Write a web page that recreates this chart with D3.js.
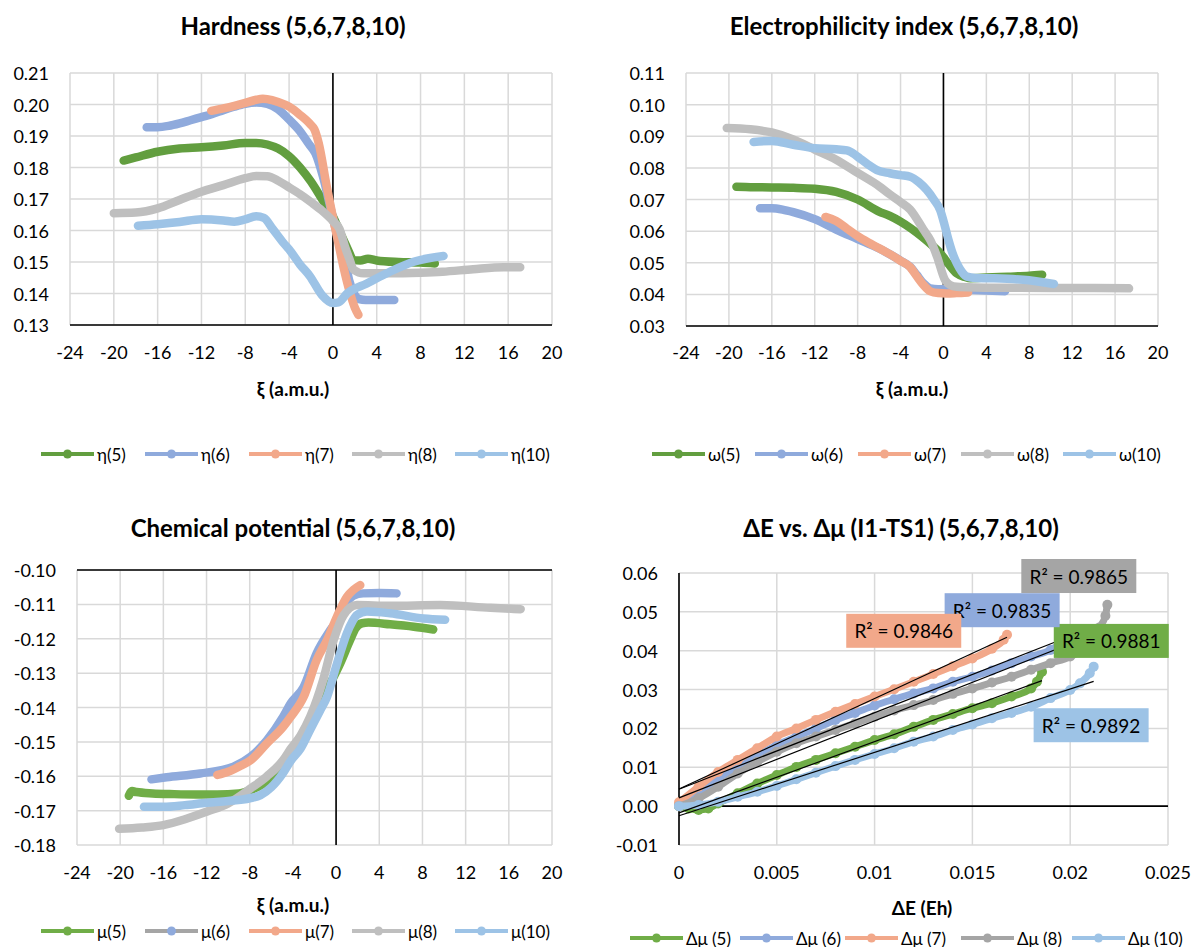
<!DOCTYPE html>
<html><head><meta charset="utf-8">
<script src="https://cdn.jsdelivr.net/npm/d3@7"></script>
<style>body{margin:0;background:#fff}svg{display:block;font-family:Lato,"Open Sans",sans-serif}</style>
</head><body><svg id="c" width="1192" height="947"></svg>
<script>
// ---------------- DATA ----------------
const xiTicks = [-24,-20,-16,-12,-8,-4,0,4,8,12,16,20];
const etaTicks = [0.13,0.14,0.15,0.16,0.17,0.18,0.19,0.20,0.21];
const omegaTicks = [0.03,0.04,0.05,0.06,0.07,0.08,0.09,0.10,0.11];
const muTicks = [-0.18,-0.17,-0.16,-0.15,-0.14,-0.13,-0.12,-0.11,-0.10];
const dETicks = [0,0.005,0.01,0.015,0.02,0.025];
const dETickLabels = ["0","0.005","0.01","0.015","0.02","0.025"];
const dmuTicks = [-0.01,0,0.01,0.02,0.03,0.04,0.05,0.06];

const etaLabels = ["η(5)","η(6)","η(7)","η(8)","η(10)"];
const omegaLabels = ["ω(5)","ω(6)","ω(7)","ω(8)","ω(10)"];
const muLabels = ["μ(5)","μ(6)","μ(7)","μ(8)","μ(10)"];
const dmuLabels = ["Δμ (5)","Δμ (6)","Δμ (7)","Δμ (8)","Δμ (10)"];
const r2Values = ["0.9881","0.9835","0.9846","0.9865","0.9892"];

// Hardness [ξ, η]
const eta5 = [[-19.1,0.1822],[-18,0.1832],[-16,0.1850],[-14,0.1860],[-12,0.1864],[-10,0.1870],[-8,0.1878],[-7,0.1878],[-6,0.1873],[-5,0.1860],[-4,0.1836],[-3,0.1800],[-2,0.1755],[-1,0.1700],[0,0.1645],[0.7,0.1590],[1.3,0.1545],[1.9,0.1506],[2.5,0.1505],[3.2,0.1510],[4,0.1505],[6,0.1500],[8,0.1498],[9.3,0.1495]];
const eta6 = [[-17,0.1928],[-16,0.1928],[-15,0.1932],[-14,0.1940],[-13,0.1950],[-12,0.1960],[-11,0.1970],[-10,0.1982],[-9,0.1993],[-8,0.2002],[-7,0.2006],[-6,0.2002],[-5,0.1985],[-4,0.1952],[-3,0.1915],[-2.2,0.1875],[-1.6,0.1845],[-0.9,0.1770],[-0.2,0.1670],[0.5,0.1570],[1.1,0.1506],[1.5,0.1440],[1.9,0.1401],[2.4,0.1382],[3,0.1379],[4.5,0.1379],[5.6,0.1379]];
const eta7 = [[-11.1,0.1980],[-10,0.1988],[-9,0.1996],[-8,0.2005],[-7,0.2015],[-6.4,0.2018],[-6,0.2017],[-5,0.2008],[-4,0.1993],[-3,0.1967],[-2,0.1935],[-1.7,0.1922],[-1.3,0.1878],[-0.56,0.1739],[0.05,0.1633],[0.5,0.1560],[0.96,0.1485],[1.57,0.1401],[2.0,0.1355],[2.33,0.1332]];
const eta8 = [[-20,0.1655],[-18,0.1657],[-16,0.1670],[-14,0.1697],[-12,0.1723],[-10,0.1744],[-8,0.1766],[-7,0.1773],[-6,0.1772],[-5,0.1758],[-4,0.1737],[-3,0.1715],[-2,0.1690],[-1,0.1663],[0,0.1630],[0.6,0.1605],[1.1,0.1549],[1.5,0.1510],[1.9,0.1475],[2.8,0.1464],[5,0.1464],[8,0.1466],[10,0.1469],[12.8,0.1477],[15.6,0.1483],[17.1,0.1483]];
const eta10 = [[-17.8,0.1615],[-16,0.1620],[-14,0.1627],[-12,0.1636],[-10,0.1632],[-9,0.1628],[-8,0.1635],[-7,0.1645],[-6.3,0.1640],[-5.5,0.1605],[-4.5,0.1560],[-4,0.1540],[-3,0.1492],[-2.1,0.1455],[-1,0.1395],[0,0.1370],[0.5,0.1372],[1.3,0.1400],[3.1,0.1432],[5.2,0.1469],[7.3,0.1500],[10.1,0.1519]];

// Electrophilicity index [ξ, ω]
const omega5 = [[-19.3,0.0740],[-18,0.0739],[-16,0.0738],[-14,0.0737],[-12,0.0734],[-10,0.0724],[-8,0.0700],[-6,0.0662],[-5,0.0648],[-4,0.0630],[-3,0.0608],[-2,0.0582],[-1,0.0553],[-0.3,0.0530],[0.5,0.0495],[1.25,0.0466],[2,0.0455],[2.5,0.0451],[4,0.0453],[6,0.0456],[8,0.0459],[9.2,0.0462]];
const omega6 = [[-17.1,0.0672],[-16,0.0672],[-15,0.0668],[-14,0.0660],[-12,0.0638],[-10,0.0605],[-8,0.0575],[-6,0.0545],[-5,0.0527],[-4,0.0507],[-3.1,0.0487],[-2.5,0.0462],[-1.87,0.0435],[-1.24,0.0419],[-0.5,0.0416],[0.5,0.0417],[2,0.0415],[4,0.0412],[5.75,0.0410]];
const omega7 = [[-11,0.0645],[-10,0.0632],[-9,0.0608],[-8,0.0584],[-7,0.0564],[-6,0.0546],[-5,0.0527],[-4,0.0506],[-3.1,0.0486],[-2.5,0.0458],[-1.87,0.0430],[-1.24,0.0410],[-0.5,0.0404],[0.3,0.0403],[1.2,0.0404],[2.3,0.0406]];
const omega8 = [[-20.2,0.0926],[-18,0.0922],[-16,0.0912],[-14,0.0890],[-12,0.0858],[-10,0.0826],[-8,0.0784],[-6,0.0742],[-5,0.0716],[-4,0.0692],[-3.1,0.0668],[-1.87,0.0605],[-1.2,0.0570],[-0.6,0.0520],[0.15,0.0445],[0.6,0.0430],[1.25,0.0424],[3,0.0422],[6,0.0421],[10,0.0420],[14,0.0420],[17.3,0.0419]];
const omega10 = [[-17.7,0.0882],[-16,0.0885],[-14,0.0873],[-12,0.0862],[-10,0.0859],[-9,0.0855],[-8.3,0.0843],[-7.8,0.0830],[-7,0.0810],[-6.2,0.0793],[-5,0.0783],[-4,0.0777],[-3.1,0.0772],[-2.3,0.0755],[-1.55,0.0730],[-0.9,0.0700],[-0.3,0.0666],[0.1,0.0620],[0.47,0.0572],[0.85,0.0530],[1.25,0.0498],[1.7,0.0472],[2.2,0.0456],[3,0.0452],[4.35,0.0451],[7.45,0.0446],[10.3,0.0433]];

// Chemical potential [ξ, μ]
const mu5 = [[-19.2,-0.1657],[-18.9,-0.1643],[-18.5,-0.1646],[-17,-0.1650],[-15,-0.1652],[-13,-0.1653],[-11,-0.1653],[-9,-0.1650],[-8,-0.1641],[-7,-0.1627],[-6,-0.1605],[-5,-0.1570],[-4,-0.1522],[-3,-0.1472],[-2.4,-0.1438],[-1.5,-0.1385],[-0.54,-0.1330],[0.39,-0.1271],[1.3,-0.1204],[1.8,-0.1170],[2.4,-0.1155],[3,-0.1153],[5,-0.1158],[7.2,-0.1165],[9,-0.1173]];
const mu6 = [[-17.1,-0.1609],[-15.7,-0.1603],[-12.6,-0.1592],[-9.5,-0.1572],[-7.9,-0.1543],[-6.4,-0.1495],[-4.9,-0.1427],[-4.2,-0.1388],[-3.0,-0.1340],[-1.8,-0.1242],[-0.54,-0.1175],[0.6,-0.1125],[1.0,-0.1095],[1.6,-0.1075],[2.5,-0.1068],[4,-0.1067],[5.6,-0.1068]];
const mu7 = [[-11,-0.1596],[-10,-0.1587],[-9,-0.1572],[-7.9,-0.1553],[-6.4,-0.1504],[-4.9,-0.1456],[-4.2,-0.1427],[-3,-0.1369],[-1.8,-0.1262],[-0.84,-0.1204],[0.08,-0.1136],[1.0,-0.1078],[1.6,-0.1058],[2.24,-0.1044]];
const mu8 = [[-20.1,-0.1753],[-18,-0.1749],[-16,-0.1742],[-14,-0.1725],[-12,-0.1703],[-10,-0.1679],[-7.9,-0.1635],[-6.4,-0.1600],[-4.9,-0.1553],[-4.2,-0.1520],[-3.3,-0.1482],[-2.4,-0.1427],[-1.2,-0.1320],[-0.23,-0.1204],[0.7,-0.1131],[1.93,-0.1102],[5,-0.1104],[9.65,-0.1102],[14.3,-0.1110],[17.1,-0.1114]];
const mu10 = [[-17.8,-0.1689],[-16,-0.1689],[-14,-0.1684],[-12,-0.1677],[-10,-0.1672],[-8,-0.1664],[-7,-0.1655],[-6,-0.1632],[-4.9,-0.1590],[-4.2,-0.1555],[-3.3,-0.1520],[-2.4,-0.1465],[-1.5,-0.1410],[-0.84,-0.1369],[0,-0.1281],[0.5,-0.1230],[1.0,-0.1184],[1.5,-0.1150],[1.93,-0.1131],[2.86,-0.1121],[5,-0.1126],[8.1,-0.1141],[10.1,-0.1145]];

// ΔE vs Δμ [ΔE, Δμ]
const dmu5 = [[0,0],[0.0005,-0.0006],[0.001,-0.001],[0.0015,-0.0006],[0.002,0.0007],[0.003,0.0033],[0.004,0.0058],[0.005,0.0080],[0.006,0.0101],[0.007,0.0119],[0.008,0.0136],[0.009,0.0153],[0.010,0.0170],[0.011,0.0185],[0.012,0.0204],[0.013,0.0222],[0.014,0.0237],[0.015,0.0252],[0.016,0.0265],[0.017,0.0282],[0.018,0.0303],[0.0183,0.0320],[0.01856,0.0346]];
const dmu6 = [[0,0.0005],[0.001,0.0033],[0.002,0.0071],[0.003,0.0101],[0.004,0.0131],[0.005,0.0157],[0.006,0.0179],[0.007,0.0200],[0.008,0.0222],[0.009,0.0240],[0.010,0.0259],[0.011,0.0275],[0.012,0.0290],[0.013,0.0303],[0.014,0.0320],[0.015,0.0333],[0.016,0.0349],[0.017,0.0368],[0.018,0.0385],[0.019,0.0402],[0.0195,0.0418]];
const dmu7 = [[0,0.0010],[0.001,0.0050],[0.002,0.0088],[0.003,0.0119],[0.004,0.0149],[0.005,0.0179],[0.006,0.0200],[0.007,0.0222],[0.008,0.0243],[0.009,0.0263],[0.010,0.0282],[0.011,0.0301],[0.012,0.0320],[0.013,0.0340],[0.014,0.0360],[0.015,0.0380],[0.016,0.0405],[0.0166,0.0428],[0.01677,0.0441]];
const dmu8 = [[0,0],[0.001,0.0020],[0.002,0.0050],[0.003,0.0084],[0.004,0.0114],[0.005,0.0140],[0.006,0.0162],[0.007,0.0179],[0.008,0.0196],[0.009,0.0213],[0.010,0.0230],[0.011,0.0246],[0.012,0.0260],[0.013,0.0273],[0.014,0.0289],[0.015,0.0303],[0.016,0.0318],[0.017,0.0333],[0.018,0.0351],[0.019,0.0368],[0.020,0.0385],[0.021,0.0420],[0.0215,0.0460],[0.0218,0.0490],[0.0219,0.0518]];
const dmu10 = [[0,0],[0.001,0.0003],[0.002,0.0011],[0.003,0.0024],[0.004,0.0037],[0.005,0.0052],[0.006,0.0069],[0.007,0.0086],[0.008,0.0103],[0.009,0.0119],[0.010,0.0134],[0.011,0.0149],[0.012,0.0166],[0.013,0.0179],[0.014,0.0196],[0.015,0.0210],[0.016,0.0226],[0.017,0.0240],[0.018,0.0256],[0.019,0.0278],[0.020,0.0299],[0.0205,0.0316],[0.021,0.0342],[0.0212,0.0359]];

// R² label anchor (top-left, data coords)
const r2AnchorX = [0.01916,0.01358,0.00855,0.0175,0.01813];
const r2AnchorY = [0.0469,0.0548,0.0495,0.0636,0.0252];

// ---------------- STYLE ----------------
const C = {green:"#629E3F", green2:"#70AD47", blue:"#8FAADC", salmon:"#F2A88A", gray:"#BFBFBF", gray2:"#A5A5A5", lblue:"#9DC3E6"};
const GRID = "#D9D9D9";
const svg = d3.select("#c");
svg.append("rect").attr("width",1192).attr("height",947).attr("fill","#fff");

function fmt2(v){ return v.toFixed(2); }

function frame(p){
  const g = svg.append("g");
  const x = d3.scaleLinear().domain(p.xd).range([p.L,p.R]);
  const y = d3.scaleLinear().domain(p.yd).range([p.B,p.T]);
  g.append("g").selectAll("line").data(p.xt).join("line")
    .attr("x1",d=>x(d)).attr("x2",d=>x(d)).attr("y1",p.T).attr("y2",p.B)
    .attr("stroke",GRID).attr("stroke-width",1.5);
  g.append("g").selectAll("line").data(p.yt).join("line")
    .attr("y1",d=>y(d)).attr("y2",d=>y(d)).attr("x1",p.L).attr("x2",p.R)
    .attr("stroke",GRID).attr("stroke-width",1.5);
  g.append("line").attr("x1",p.L).attr("x2",p.R).attr("y1",y(p.hAt)).attr("y2",y(p.hAt)).attr("stroke","#000").attr("stroke-width",1.6);
  g.append("line").attr("x1",x(p.vAt)).attr("x2",x(p.vAt)).attr("y1",p.T).attr("y2",p.B).attr("stroke","#000").attr("stroke-width",1.6);
  g.append("g").selectAll("text").data(p.xt).join("text")
    .attr("x",d=>x(d)).attr("y",p.xLabY).attr("text-anchor","middle").attr("dominant-baseline","central")
    .attr("font-size",18).attr("fill","#000").text((d,i)=>p.xlab?p.xlab[i]:String(d));
  g.append("g").selectAll("text").data(p.yt).join("text")
    .attr("x",p.L-21).attr("y",d=>y(d)).attr("text-anchor","end").attr("dominant-baseline","central")
    .attr("font-size",18).attr("fill","#000").text(d=>fmt2(d));
  svg.append("text").attr("x",p.titleX).attr("y",p.titleY).attr("text-anchor","middle").attr("dominant-baseline","central")
    .attr("font-size",24).attr("font-weight","bold").text(p.title);
  svg.append("text").attr("x",p.axX).attr("y",p.axY).attr("text-anchor","middle").attr("dominant-baseline","central")
    .attr("font-size",19).attr("font-weight","bold").text(p.axTitle);
  const lg = svg.append("g");
  p.legend.forEach((it,i)=>{
    const x0 = p.legX[i], yy = p.legY;
    lg.append("line").attr("x1",x0).attr("x2",x0+53).attr("y1",yy).attr("y2",yy).attr("stroke",it.line).attr("stroke-width",4);
    lg.append("circle").attr("cx",x0+26.5).attr("cy",yy).attr("r",4.5).attr("fill",it.mark);
    lg.append("text").attr("x",x0+56).attr("y",yy).attr("dominant-baseline","central").attr("font-size",17).text(it.label);
  });
  return {x,y,g};
}

function linePanel(p){
  const {x,y,g} = frame(p);
  const line = d3.line().x(d=>x(d[0])).y(d=>y(d[1])).curve(d3.curveMonotoneX);
  g.append("g").selectAll("path").data(p.series).join("path")
    .attr("d",s=>line(s.data)).attr("fill","none").attr("stroke",s=>s.color)
    .attr("stroke-width",8.5).attr("stroke-linecap","round").attr("stroke-linejoin","round");
}

const legX1 = [41,145,249,352,455];
const legX2 = [652,755,858,961,1063];

linePanel({L:70,R:552,T:73,B:325,xd:[-24,20],yd:[0.13,0.21],xt:xiTicks,yt:etaTicks,hAt:0.13,vAt:0,xLabY:352,
  title:"Hardness (5,6,7,8,10)",titleX:293,titleY:25,axTitle:"ξ (a.m.u.)",axX:293,axY:388,legX:legX1,legY:454,
  series:[{data:eta5,color:C.green},{data:eta6,color:C.blue},{data:eta7,color:C.salmon},{data:eta8,color:C.gray},{data:eta10,color:C.lblue}],
  legend:[{label:etaLabels[0],line:C.green,mark:C.green},{label:etaLabels[1],line:C.blue,mark:C.blue},{label:etaLabels[2],line:C.salmon,mark:C.salmon},{label:etaLabels[3],line:C.gray,mark:C.gray},{label:etaLabels[4],line:C.lblue,mark:C.lblue}]});

linePanel({L:686,R:1158,T:73,B:326,xd:[-24,20],yd:[0.03,0.11],xt:xiTicks,yt:omegaTicks,hAt:0.03,vAt:0,xLabY:352,
  title:"Electrophilicity index (5,6,7,8,10)",titleX:904,titleY:25,axTitle:"ξ (a.m.u.)",axX:912,axY:388,legX:legX2,legY:454,
  series:[{data:omega5,color:C.green},{data:omega6,color:C.blue},{data:omega7,color:C.salmon},{data:omega8,color:C.gray},{data:omega10,color:C.lblue}],
  legend:[{label:omegaLabels[0],line:C.green,mark:C.green},{label:omegaLabels[1],line:C.blue,mark:C.blue},{label:omegaLabels[2],line:C.salmon,mark:C.salmon},{label:omegaLabels[3],line:C.gray,mark:C.gray},{label:omegaLabels[4],line:C.lblue,mark:C.lblue}]});

linePanel({L:77,R:552,T:570,B:845,xd:[-24,20],yd:[-0.18,-0.10],xt:xiTicks,yt:muTicks,hAt:-0.10,vAt:0,xLabY:872,
  title:"Chemical potential (5,6,7,8,10)",titleX:293,titleY:527,axTitle:"ξ (a.m.u.)",axX:293,axY:904,legX:legX1,legY:931,
  series:[{data:mu5,color:C.green2},{data:mu6,color:C.blue},{data:mu7,color:C.salmon},{data:mu8,color:C.gray},{data:mu10,color:C.lblue}],
  legend:[{label:muLabels[0],line:C.green2,mark:C.green2},{label:muLabels[1],line:C.gray2,mark:C.blue},{label:muLabels[2],line:C.salmon,mark:C.salmon},{label:muLabels[3],line:C.gray,mark:C.gray},{label:muLabels[4],line:C.lblue,mark:C.lblue}]});

(function(){
  const p = {L:679,R:1168,T:573,B:845,xd:[0,0.025],yd:[-0.01,0.06],xt:dETicks,xlab:dETickLabels,yt:dmuTicks,hAt:0,vAt:0,xLabY:872,
    title:"ΔE vs. Δμ (I1-TS1) (5,6,7,8,10)",titleX:901,titleY:527,axTitle:"ΔE (Eh)",axX:922,axY:907,
    legX:[630,740,845,961,1072],legY:938,
    legend:[{label:dmuLabels[0],line:C.green2,mark:C.green2},{label:dmuLabels[1],line:C.blue,mark:C.blue},{label:dmuLabels[2],line:C.salmon,mark:C.salmon},{label:dmuLabels[3],line:C.gray2,mark:C.gray2},{label:dmuLabels[4],line:C.lblue,mark:C.lblue}]};
  const {x,y,g} = frame(p);
  const series = [{data:dmu5,color:C.green2},{data:dmu6,color:C.blue},{data:dmu7,color:C.salmon},{data:dmu8,color:C.gray2},{data:dmu10,color:C.lblue}];
  const line = d3.line().x(d=>x(d[0])).y(d=>y(d[1])).curve(d3.curveMonotoneX);
  series.forEach(s=>{
    g.append("path").attr("d",line(s.data)).attr("fill","none").attr("stroke",s.color).attr("stroke-width",7).attr("stroke-linecap","round");
    g.append("g").selectAll("circle").data(s.data).join("circle").attr("cx",d=>x(d[0])).attr("cy",d=>y(d[1])).attr("r",5).attr("fill",s.color);
  });
  series.forEach(s=>{
    const mx=d3.mean(s.data,d=>d[0]), my=d3.mean(s.data,d=>d[1]);
    let sxy=0,sxx=0; s.data.forEach(d=>{sxy+=(d[0]-mx)*(d[1]-my); sxx+=(d[0]-mx)**2;});
    const b=sxy/sxx, a=my-b*mx;
    const x0=d3.min(s.data,d=>d[0]), x1=d3.max(s.data,d=>d[0]);
    g.append("line").attr("x1",x(x0)).attr("y1",y(a+b*x0)).attr("x2",x(x1)).attr("y2",y(a+b*x1)).attr("stroke","#000").attr("stroke-width",1.2);
  });
  series.forEach((s,i)=>{
    const bx=x(r2AnchorX[i]), by=y(r2AnchorY[i]);
    g.append("rect").attr("x",bx).attr("y",by).attr("width",115).attr("height",34).attr("fill",s.color);
    g.append("text").attr("x",bx+57.5).attr("y",by+17).attr("text-anchor","middle").attr("dominant-baseline","central")
      .attr("font-size",19).attr("fill","#000").text("R² = "+r2Values[i]);
  });
})();
</script></body></html>
